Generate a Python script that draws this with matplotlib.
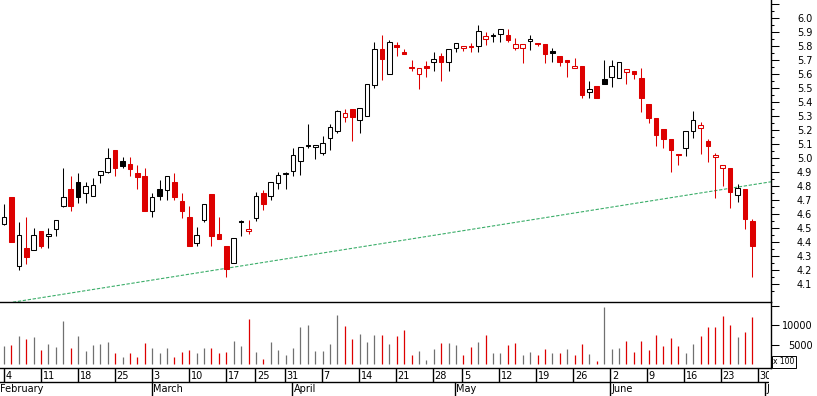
import matplotlib
matplotlib.use("Agg")
from matplotlib import pyplot as plt
import numpy as np

# Daily prices, one entry per trading day (4 February to 27 June).
opens = [4.53, 4.72, 4.23, 4.36, 4.34, 4.48, 4.445, 4.49, 4.66, 4.78,
         4.83, 4.75, 4.73, 4.88, 4.90, 5.06, 4.98, 4.96, 4.895, 4.87,
         4.62, 4.78, 4.77, 4.83, 4.69, 4.58, 4.39, 4.56, 4.74, 4.46,
         4.37, 4.25, 4.54, 4.475, 4.57, 4.75, 4.73, 4.82, 4.885, 4.91,
         4.98, 5.088, 5.076, 5.034, 5.14, 5.19, 5.29, 5.35, 5.27, 5.30,
         5.52, 5.78, 5.60, 5.81, 5.76, 5.64, 5.60, 5.657, 5.686, 5.73,
         5.686, 5.784, 5.786, 5.79, 5.80, 5.852, 5.874, 5.884, 5.879, 5.784,
         5.784, 5.834, 5.812, 5.812, 5.764, 5.726, 5.70, 5.641, 5.657, 5.469,
         5.514, 5.564, 5.581, 5.574, 5.614, 5.621, 5.571, 5.386, 5.286, 5.207,
         5.136, 5.021, 5.074, 5.195, 5.216, 5.121, 5.005, 4.926, 4.926, 4.734,
         4.779, 4.55]
highs = [4.67, 4.72, 4.54, 4.58, 4.50, 4.48, 4.50, 4.56, 4.93, 4.87,
         4.89, 4.83, 4.86, 4.91, 5.07, 5.06, 5.01, 5.01, 4.95, 4.93,
         4.75, 4.84, 4.87, 4.89, 4.75, 4.66, 4.51, 4.67, 4.74, 4.58,
         4.37, 4.43, 4.56, 4.56, 4.76, 4.77, 4.83, 4.90, 4.90, 5.07,
         5.08, 5.24, 5.091, 5.157, 5.24, 5.34, 5.35, 5.35, 5.36, 5.53,
         5.83, 5.88, 5.84, 5.83, 5.78, 5.70, 5.64, 5.693, 5.755, 5.748,
         5.776, 5.82, 5.802, 5.819, 5.95, 5.898, 5.891, 5.919, 5.921, 5.855,
         5.816, 5.879, 5.82, 5.812, 5.784, 5.726, 5.70, 5.712, 5.657, 5.552,
         5.514, 5.70, 5.70, 5.684, 5.638, 5.621, 5.641, 5.386, 5.286, 5.207,
         5.136, 5.021, 5.193, 5.336, 5.259, 5.136, 5.036, 4.948, 4.926, 4.812,
         4.779, 4.564]
lows = [4.52, 4.40, 4.20, 4.24, 4.34, 4.36, 4.36, 4.44, 4.65, 4.62,
        4.68, 4.68, 4.73, 4.82, 4.89, 4.87, 4.93, 4.87, 4.78, 4.62,
        4.58, 4.70, 4.70, 4.70, 4.57, 4.37, 4.37, 4.54, 4.37, 4.42,
        4.15, 4.25, 4.44, 4.46, 4.55, 4.63, 4.70, 4.78, 4.78, 4.87,
        4.88, 5.07, 4.99, 5.02, 5.06, 5.18, 5.26, 5.12, 5.18, 5.30,
        5.50, 5.56, 5.60, 5.73, 5.74, 5.62, 5.49, 5.576, 5.624, 5.552,
        5.624, 5.755, 5.762, 5.759, 5.76, 5.807, 5.831, 5.831, 5.826, 5.771,
        5.681, 5.774, 5.80, 5.681, 5.688, 5.659, 5.58, 5.641, 5.426, 5.426,
        5.431, 5.531, 5.509, 5.574, 5.531, 5.566, 5.331, 5.252, 5.088, 5.071,
        4.902, 4.95, 5.016, 5.145, 5.031, 4.969, 4.712, 4.802, 4.641, 4.688,
        4.495, 4.152]
closes = [4.58, 4.40, 4.45, 4.29, 4.45, 4.37, 4.46, 4.56, 4.72, 4.66,
          4.72, 4.80, 4.81, 4.91, 5.00, 4.93, 4.945, 4.92, 4.866, 4.62,
          4.72, 4.73, 4.87, 4.72, 4.62, 4.37, 4.45, 4.67, 4.445, 4.42,
          4.21, 4.43, 4.54, 4.49, 4.73, 4.67, 4.83, 4.88, 4.895, 5.02,
          5.08, 5.088, 5.091, 5.105, 5.22, 5.335, 5.325, 5.29, 5.36, 5.53,
          5.78, 5.71, 5.83, 5.79, 5.745, 5.64, 5.64, 5.64, 5.705, 5.688,
          5.776, 5.819, 5.802, 5.79, 5.91, 5.869, 5.874, 5.919, 5.845, 5.816,
          5.816, 5.848, 5.812, 5.745, 5.752, 5.688, 5.688, 5.659, 5.45, 5.491,
          5.431, 5.531, 5.659, 5.684, 5.638, 5.602, 5.431, 5.288, 5.166, 5.138,
          5.059, 5.021, 5.193, 5.274, 5.236, 5.088, 5.021, 4.948, 4.755, 4.786,
          4.566, 4.374]
# Volume in hundreds of shares
volumes = [4600, 4870, 7330, 6540, 6980, 3550, 5130, 4340, 11190, 4080,
           7240, 3290, 4960, 5050, 5660, 2760, 1710, 2760, 1710, 5400,
           4080, 2760, 4080, 1710, 3030, 3550, 2760, 4080, 4080, 2760,
           3030, 5920, 4610, 11710, 3030, 1180, 5660, 3550, 2240, 4080,
           9610, 10130, 3290, 3290, 5130, 12770, 9870, 6450, 7760, 5660,
           7500, 7500, 5130, 7240, 8820, 2240, 3290, 920, 3820, 5400,
           5400, 4870, 2240, 4340, 5660, 7500, 2760, 2760, 4870, 5400,
           2240, 3030, 2240, 3820, 2760, 2760, 3820, 2240, 5130, 2500,
           660, 14870, 3820, 4080, 5920, 3030, 5920, 3550, 7500, 4610,
           6710, 4610, 2760, 5130, 7240, 9610, 9610, 12500, 10130, 6980,
           8290, 12240]
prev_close = 4.50  # close of the day before the first bar

# Axis labels: bar index of the first day of each week / month
week_starts = [0, 5, 10, 15, 20, 25, 30, 34, 38, 43, 48, 53, 58, 62, 67,
               72, 77, 82, 87, 92, 97, 102]
week_labels = ["4", "11", "18", "25", "3", "10", "17", "25", "31", "7",
               "14", "21", "28", "5", "12", "19", "26", "2", "9", "16",
               "23", "30"]
month_starts = [-1, 20, 39, 61, 82, 103]
month_labels = ["February", "March", "April", "May", "June", "July"]

# Support trend line (bar index, price)
trend_x = [1.2, 103.5]
trend_y = [3.97, 4.83]

RED = "#dd0000"
GRAY = "#707070"
GREEN = "#3cae6a"
FS = 7

opens, highs, lows, closes = map(np.array, (opens, highs, lows, closes))
x = np.arange(len(closes))
prev = np.r_[prev_close, closes[:-1]]
candle_col = np.where(closes > prev, "black", RED)
vol_col = np.where(closes < prev, RED, GRAY)
face_col = np.where(closes > opens, "white", candle_col)

W, H = 817, 396
fig = plt.figure(figsize=(W / 100, H / 100), dpi=100)
ax = fig.add_axes([0, 94 / H, 771 / W, 302 / H])
ax_v = fig.add_axes([0, 27.7 / H, 771 / W, 66.3 / H])
ax_d = fig.add_axes([0, 0, 769 / W, 27.7 / H])
for a in (ax, ax_v, ax_d):
    a.set_facecolor("none")

xlim = (-0.54, 103.51)

# Price panel
ax.plot(trend_x, trend_y, color=GREEN, lw=0.8, dashes=(3, 1.5), zorder=1)
ax.vlines(x, lows, highs, colors=candle_col, lw=0.75, zorder=2)
ax.bar(x, np.maximum(np.abs(closes - opens), 0.008),
       bottom=np.minimum(opens, closes), width=0.62, color=face_col,
       edgecolor=candle_col, linewidth=0.75, zorder=3)
ax.set_xlim(xlim)
ax.set_ylim(3.9714, 6.1286)
ax.set_xticks([])
ax.yaxis.tick_right()
price_ticks = np.round(np.arange(4.1, 6.15, 0.1), 1)
ax.set_yticks(price_ticks)
ax.set_yticklabels(["%.1f" % t if t <= 6.0 else "" for t in price_ticks])
ax.set_yticks(np.round(np.arange(4.05, 6.1, 0.1), 2), minor=True)
ax.tick_params(axis="y", which="major", length=5.5, width=0.75, pad=13.2,
               labelsize=FS)
ax.tick_params(axis="y", which="minor", length=2.4, width=0.75)
for side in ("left", "top"):
    ax.spines[side].set_visible(False)
for side in ("right", "bottom"):
    ax.spines[side].set_linewidth(1.0)

# Volume panel
ax_v.vlines(x, 0, volumes, colors=vol_col, lw=0.9)
ax_v.set_xlim(xlim)
ax_v.set_ylim(-1263, 16184)
ax_v.set_xticks([])
ax_v.yaxis.tick_right()
ax_v.set_yticks([0, 5000, 10000, 15000])
ax_v.set_yticklabels(["", "5000", "10000", ""])
for lab in ax_v.get_yticklabels():
    lab.set_horizontalalignment("right")
ax_v.tick_params(axis="y", length=5.5, width=0.75, pad=24.7, labelsize=FS)
for side in ("left", "top"):
    ax_v.spines[side].set_visible(False)
for side in ("right", "bottom"):
    ax_v.spines[side].set_linewidth(1.0)
fig.text(773 / W, 1 - 362 / H, "x 100", fontsize=5.5, va="center", ha="left",
         bbox=dict(boxstyle="square,pad=0.15", fc="white", ec="black", lw=0.7))

# Date strip
mid = 0.495
ax_d.set_xlim(xlim)
ax_d.set_ylim(0, 1)
ax_d.axis("off")
ax_d.axhline(mid, color="black", lw=1.0)
ax_d.vlines(week_starts, mid, 1, color="black", lw=1.0)
ax_d.vlines(month_starts, 0, mid, color="black", lw=1.0)
for i, lab in zip(week_starts, week_labels):
    ax_d.text(i + 0.25, 0.72, lab, fontsize=FS, va="center", ha="left",
              clip_on=True)
for i, lab in zip(month_starts, month_labels):
    # the first month starts before the first bar; keep its label in view
    ax_d.text(max(i + 0.2, xlim[0] + 0.05), 0.24, lab, fontsize=FS,
              va="center", ha="left", clip_on=True)

fig.savefig("out.png", dpi=100)
